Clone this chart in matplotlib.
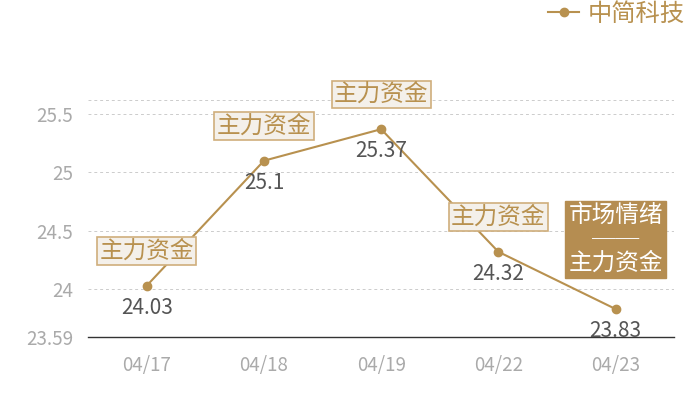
import matplotlib
matplotlib.use('Agg')
from matplotlib import pyplot as plt

plt.rcParams['font.family'] = ['Noto Sans CJK SC', 'DejaVu Sans']

dates = ['04/17', '04/18', '04/19', '04/22', '04/23']
values = [24.03, 25.1, 25.37, 24.32, 23.83]
notes = ['主力资金', '主力资金', '主力资金', '主力资金', '市场情绪\n──\n主力资金']
yticks = [23.59, 24, 24.5, 25, 25.5]
ymin, ymax = 23.59, 25.62

gold = '#b8914f'
dark_gold = '#b58d51'

fig = plt.figure(figsize=(7, 4), dpi=100)
ax = fig.add_axes([0.126, 0.1575, 0.837, 0.5925])

x = list(range(len(dates)))
ax.plot(x, values, color=gold, lw=1.5, marker='o', ms=6, label='中简科技', zorder=3)

ax.set_xlim(-0.5, len(dates) - 0.5)
ax.set_ylim(ymin, ymax)
ax.set_yticks(yticks)
ax.set_yticklabels(['23.59', '24', '24.5', '25', '25.5'])
ax.set_xticks(x)
ax.set_xticklabels(dates)
ax.tick_params(axis='y', length=0, pad=11, labelsize=13.5, labelcolor='#aaaaaa')
ax.tick_params(axis='x', length=0, pad=13, labelsize=13.5, labelcolor='#aaaaaa')

# dashed grid, including the unlabeled top line
for t in yticks[1:] + [ymax]:
    ax.axhline(t, color='#cccccc', lw=0.7, ls=(0, (3, 3)), zorder=1)

for s in ['top', 'right', 'left']:
    ax.spines[s].set_visible(False)
ax.spines['bottom'].set_color('#333333')
ax.spines['bottom'].set_linewidth(1)

for i, (v, n) in enumerate(zip(values, notes)):
    ax.annotate(f'{v:g}', (i, v), xytext=(0, -16), textcoords='offset points',
                ha='center', va='center', fontsize=15, color='#555555', zorder=4)
    if '\n' in n:
        ax.annotate(n, (i, v), xytext=(0, 50), textcoords='offset points',
                    ha='center', va='center', fontsize=17, color='white',
                    linespacing=1.05, zorder=5,
                    bbox=dict(boxstyle='square,pad=0.12', fc=dark_gold, ec=dark_gold))
    else:
        ax.annotate(n, (i, v), xytext=(0, 25), textcoords='offset points',
                    ha='center', va='center', fontsize=17, color=gold, zorder=5,
                    bbox=dict(boxstyle='square,pad=0.1', fc='#f4f0ea', ec='#cfae7c', lw=1.2))

leg = ax.legend(loc='upper right', bbox_to_anchor=(1.035, 1.46), frameon=False,
                fontsize=17.5, handlelength=1.3, handletextpad=0.35, borderaxespad=0)
for t in leg.get_texts():
    t.set_color(gold)

fig.savefig('out.png', dpi=100)
